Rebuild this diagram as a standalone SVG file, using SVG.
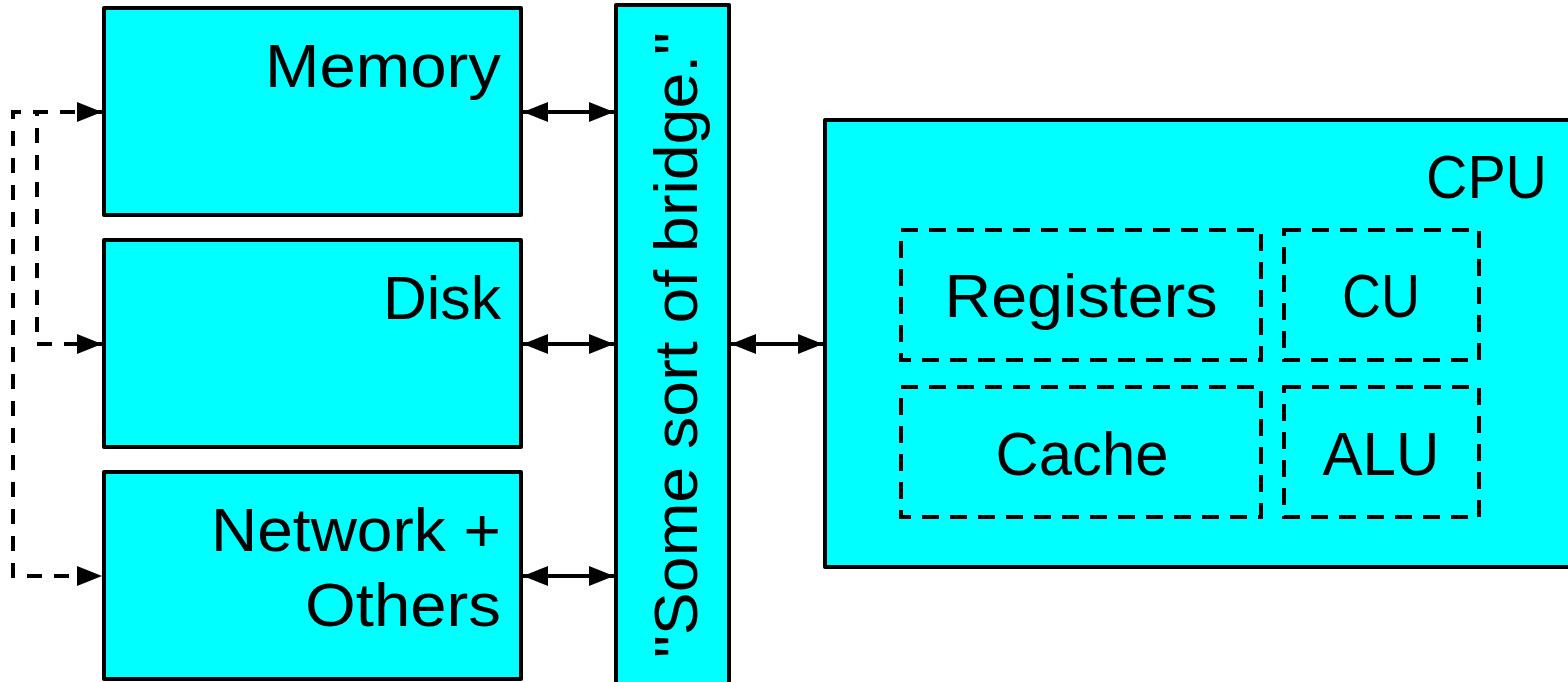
<svg xmlns="http://www.w3.org/2000/svg" width="1568" height="682" viewBox="0 0 1568 682">
<style>
  .box { fill: #00ffff; stroke: #000; stroke-width: 4; stroke-linejoin: round; }
  .sub { fill: none; stroke: #000; stroke-width: 4; stroke-dasharray: 17 11; }
  .lbl { font-family: "Liberation Sans", Arial, sans-serif; font-size: 62px; fill: #000; }
  .conn { fill: none; stroke: #000; stroke-width: 4; }
  .dash { stroke-dasharray: 15 12; }
</style>
<defs>
  <marker id="ah" markerUnits="userSpaceOnUse" markerWidth="28" markerHeight="22" refX="25" refY="10" orient="auto-start-reverse">
    <path d="M0,0 L25,10 L0,20 z" fill="#000"/>
  </marker>
</defs>
<g id="connectors">
  <path class="conn dash" d="M102,112 H37 V344 H102" marker-start="url(#ah)" marker-end="url(#ah)"/>
  <path class="conn dash" d="M102,112 H13 V576 H102" marker-end="url(#ah)"/>
  <path class="conn" d="M523,112 H614" marker-start="url(#ah)" marker-end="url(#ah)"/>
  <path class="conn" d="M523,344 H614" marker-start="url(#ah)" marker-end="url(#ah)"/>
  <path class="conn" d="M523,576 H614" marker-start="url(#ah)" marker-end="url(#ah)"/>
  <path class="conn" d="M731,344 H823" marker-start="url(#ah)" marker-end="url(#ah)"/>
</g>
<g id="memory">
  <rect class="box" x="104" y="8" width="417" height="207"/>
  <text class="lbl" x="501" y="87" text-anchor="end" textLength="236" lengthAdjust="spacingAndGlyphs">Memory</text>
</g>
<g id="disk">
  <rect class="box" x="104" y="240" width="417" height="207"/>
  <text class="lbl" x="501" y="319" text-anchor="end" textLength="118" lengthAdjust="spacingAndGlyphs">Disk</text>
</g>
<g id="network">
  <rect class="box" x="104" y="472" width="417" height="207"/>
  <text class="lbl" x="501" y="551" text-anchor="end" textLength="290" lengthAdjust="spacingAndGlyphs">Network +</text>
  <text class="lbl" x="501" y="626" text-anchor="end" textLength="196" lengthAdjust="spacingAndGlyphs">Others</text>
</g>
<g id="bridge">
  <rect class="box" x="616" y="5" width="113" height="700"/>
  <text class="lbl" transform="translate(697,345) rotate(-90)" x="0" y="0" text-anchor="middle" textLength="626" lengthAdjust="spacingAndGlyphs">"Some sort of bridge."</text>
</g>
<g id="cpu">
  <rect class="box" x="825" y="120" width="760" height="447"/>
  <text class="lbl" x="1547" y="198" text-anchor="end" textLength="121" lengthAdjust="spacingAndGlyphs">CPU</text>
</g>
<g id="registers">
  <rect class="sub" x="901" y="230" width="360" height="130"/>
  <text class="lbl" x="1081" y="317" text-anchor="middle" textLength="273" lengthAdjust="spacingAndGlyphs">Registers</text>
</g>
<g id="cu">
  <rect class="sub" x="1284" y="230" width="195" height="130"/>
  <text class="lbl" x="1381" y="317" text-anchor="middle" textLength="78" lengthAdjust="spacingAndGlyphs">CU</text>
</g>
<g id="cache">
  <rect class="sub" x="901" y="387" width="360" height="130"/>
  <text class="lbl" x="1082" y="475" text-anchor="middle" textLength="173" lengthAdjust="spacingAndGlyphs">Cache</text>
</g>
<g id="alu">
  <rect class="sub" x="1284" y="387" width="195" height="130"/>
  <text class="lbl" x="1381" y="475" text-anchor="middle" textLength="117" lengthAdjust="spacingAndGlyphs">ALU</text>
</g>
</svg>
